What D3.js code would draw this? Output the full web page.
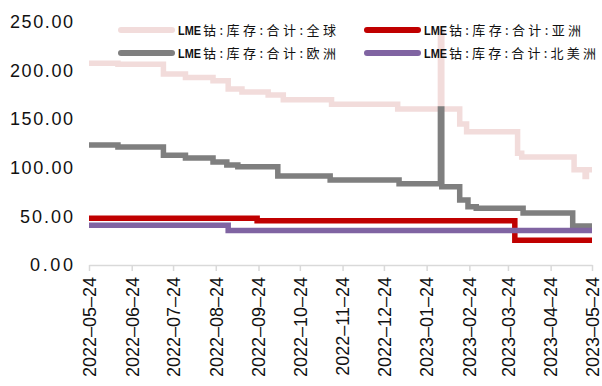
<!DOCTYPE html>
<html>
<head>
<meta charset="utf-8">
<script src="https://cdn.jsdelivr.net/npm/d3@7"></script>
<style>
  body { margin: 0; background: #fff; }
  svg { display: block; }
</style>
</head>
<body>
<div id="chart"></div>
<script>
// step change points of each series (date, value)
var globalDates = ["2022-05-24", "2022-06-14", "2022-07-17", "2022-08-02", "2022-08-22", "2022-09-02",
  "2022-09-12", "2022-10-01", "2022-10-12", "2022-11-16", "2023-01-03", "2023-02-03", "2023-02-04",
  "2023-02-17", "2023-02-22", "2023-03-31", "2023-04-03", "2023-05-11", "2023-05-19", "2023-05-20", "2023-05-24"];
var globalValues = [207.5, 206.5, 196.5, 193, 189.5, 181, 178, 175, 170, 165.5, 160.5, 240, 160.5,
  145, 137, 115, 111, 98, 91, 98, 98];

var asiaDates = ["2022-05-24", "2022-09-23", "2023-03-29", "2023-05-24"];
var asiaValues = [48, 45.5, 25.5, 25.5];

var europeDates = ["2022-05-24", "2022-06-14", "2022-07-17", "2022-08-02", "2022-08-22", "2022-09-01",
  "2022-09-09", "2022-10-08", "2022-11-15", "2023-01-04", "2023-02-03", "2023-02-04", "2023-02-17",
  "2023-02-23", "2023-03-01", "2023-04-04", "2023-05-10", "2023-05-24"];
var europeValues = [123.5, 121.5, 113, 110, 106, 103, 101, 91.5, 87.5, 83.5, 160.5, 80.5, 67,
  60, 58.5, 53.5, 40, 40];

var naDates = ["2022-05-24", "2022-09-02", "2023-05-24"];
var naValues = [41, 35.5, 35.5];

var seriesNames = ["LME钴:库存:合计:全球", "LME钴:库存:合计:亚洲", "LME钴:库存:合计:欧洲", "LME钴:库存:合计:北美洲"];
var seriesColors = ["#f2dcdb", "#c00000", "#7f7f7f", "#8064a2"];

var xTicks = ["2022-05-24", "2022-06-24", "2022-07-24", "2022-08-24", "2022-09-24", "2022-10-24",
  "2022-11-24", "2022-12-24", "2023-01-24", "2023-02-24", "2023-03-24", "2023-04-24", "2023-05-24"];
var yTicks = [0, 50, 100, 150, 200, 250];

var parse = d3.timeParse("%Y-%m-%d");
function zip(dates, values) {
  return dates.map(function(d, i) { return {date: parse(d), value: values[i]}; });
}
var series = [
  zip(globalDates, globalValues),
  zip(asiaDates, asiaValues),
  zip(europeDates, europeValues),
  zip(naDates, naValues)
];

var width = 602, height = 386;
var margin = {top: 22, right: 10, bottom: 121, left: 89};

var svg = d3.select("#chart").append("svg")
    .attr("width", width)
    .attr("height", height);

var x = d3.scaleTime()
    .domain([parse(xTicks[0]), parse(xTicks[xTicks.length - 1])])
    .range([margin.left, 592]);
var y = d3.scaleLinear()
    .domain([0, 250])
    .range([height - margin.bottom, margin.top]);

// y axis, labels only
var yAxis = svg.append("g")
    .attr("transform", "translate(" + margin.left + ",0)")
    .call(d3.axisLeft(y).tickValues(yTicks).tickSize(0).tickPadding(16).tickFormat(d3.format(".2f")));
yAxis.select(".domain").remove();
yAxis.selectAll("text")
    .attr("font-family", "'Liberation Sans', Arial, sans-serif")
    .attr("font-size", 18)
    .attr("fill", "#111")
    .attr("textLength", function(d) { return (d3.format(".2f")(d).length - 1) * 10 + 13; })
    .attr("lengthAdjust", "spacing");

// x axis
var xAxis = svg.append("g")
    .attr("transform", "translate(0," + y(0) + ")")
    .call(d3.axisBottom(x).tickValues(xTicks.map(parse)).tickSize(6).tickSizeOuter(0)
      .tickFormat(d3.timeFormat("%Y–%m–%d")));
xAxis.select(".domain").attr("stroke", "#d9d9d9").attr("stroke-width", 1.5);
xAxis.selectAll(".tick line").attr("stroke", "#d9d9d9").attr("stroke-width", 1.5);
xAxis.selectAll("text")
    .attr("font-family", "'Liberation Sans', Arial, sans-serif")
    .attr("font-size", 18)
    .attr("fill", "#111")
    .attr("transform", "rotate(-90)")
    .attr("text-anchor", "end")
    .attr("x", -12)
    .attr("y", 0)
    .attr("dy", "0.35em");

// lines
var line = d3.line()
    .curve(d3.curveStepAfter)
    .x(function(d) { return x(d.date); })
    .y(function(d) { return y(d.value); });

svg.append("g").selectAll("path")
    .data(series)
  .enter().append("path")
    .attr("d", line)
    .attr("fill", "none")
    .attr("stroke", function(d, i) { return seriesColors[i]; })
    .attr("stroke-width", 5.5);

// legend
var legendPos = [[118, 30], [364, 30], [118, 53], [364, 53]];
var legendWidth = [133, 132, 133, 147];
var legend = svg.append("g").selectAll("g")
    .data(seriesNames)
  .enter().append("g")
    .attr("transform", function(d, i) { return "translate(" + legendPos[i][0] + "," + legendPos[i][1] + ")"; });
legend.append("line")
    .attr("x1", 3).attr("x2", 54)
    .attr("stroke", function(d, i) { return seriesColors[i]; })
    .attr("stroke-width", 6)
    .attr("stroke-linecap", "round");
var ltext = legend.append("text")
    .attr("x", 60)
    .attr("y", 5)
    .attr("font-family", "'Noto Sans CJK SC', sans-serif")
    .attr("font-size", 13)
    .attr("fill", "#111");
ltext.append("tspan")
    .attr("font-family", "'Liberation Sans Narrow', 'Liberation Sans', sans-serif")
    .attr("font-weight", "bold")
    .attr("textLength", 23)
    .attr("lengthAdjust", "spacingAndGlyphs")
    .text(function(d) { return d.slice(0, 3); });
ltext.append("tspan")
    .attr("dx", 2)
    .attr("textLength", function(d, i) { return legendWidth[i]; })
    .attr("lengthAdjust", "spacing")
    .text(function(d) { return d.slice(3); });
</script>
</body>
</html>
